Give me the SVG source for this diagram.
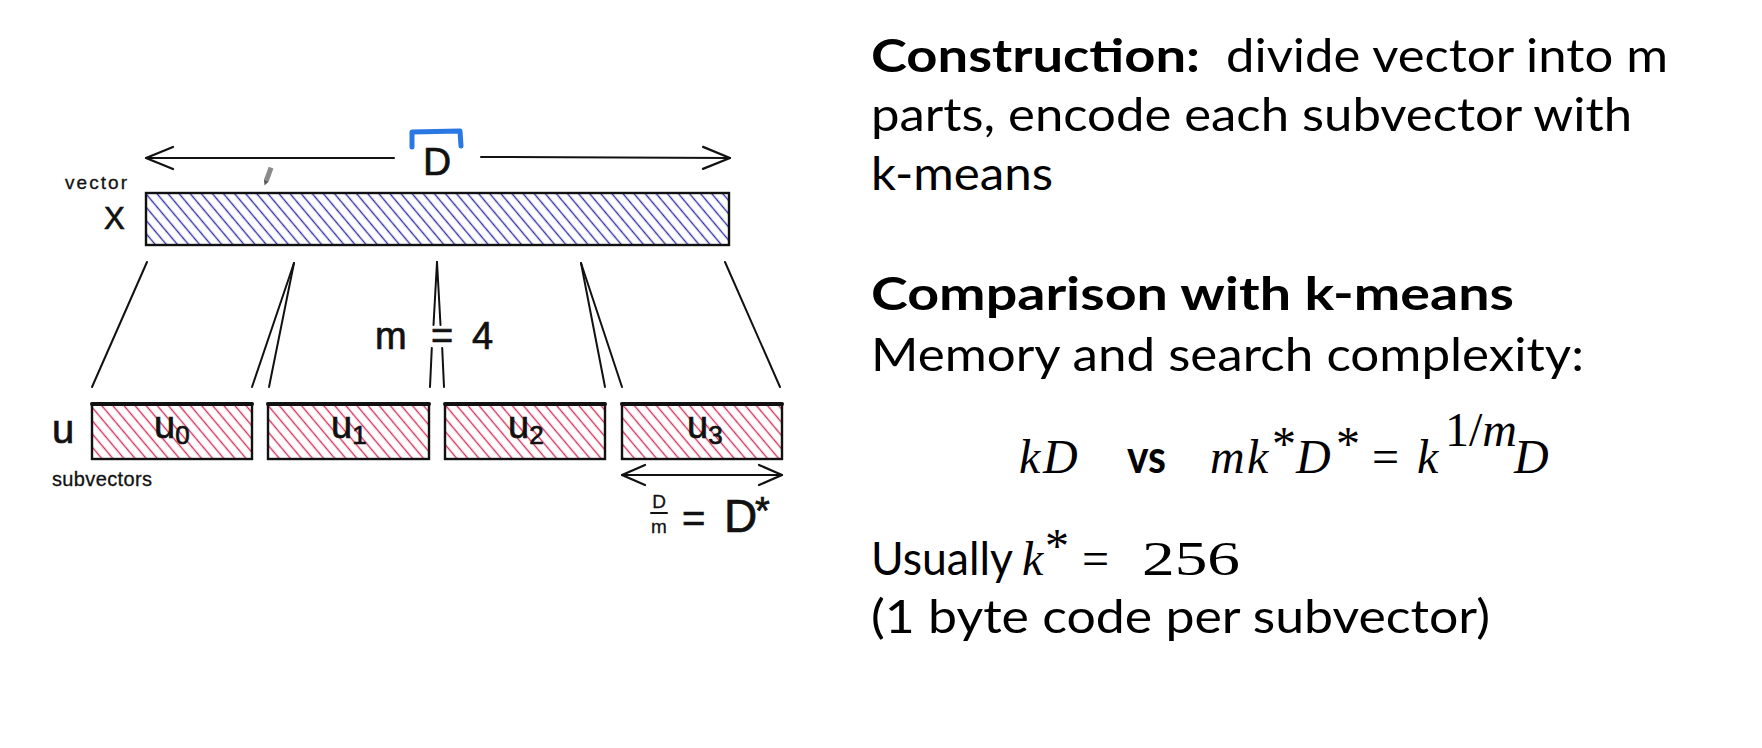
<svg xmlns="http://www.w3.org/2000/svg" width="1762" height="748" viewBox="0 0 1762 748">
  <defs>
    <!-- diagonal hatch fills for the sketched bars -->
    <pattern id="hatch-blue" patternUnits="userSpaceOnUse" width="8.5" height="8.5" patternTransform="rotate(-40)">
      <line x1="4.25" y1="-1" x2="4.25" y2="9.5" stroke="#3431a8" stroke-width="1.4"/>
    </pattern>
    <pattern id="hatch-red" patternUnits="userSpaceOnUse" width="8.5" height="8.5" patternTransform="rotate(-40)">
      <line x1="4.25" y1="-1" x2="4.25" y2="9.5" stroke="#d3325f" stroke-width="1.4"/>
    </pattern>
    <!-- open chevron arrowheads -->
    <marker id="chev-big" viewBox="-30 -14 32 28" refX="0" refY="0" markerWidth="32" markerHeight="28" markerUnits="userSpaceOnUse" orient="auto-start-reverse">
      <path d="M-27,-11 L0,0 L-27,11" fill="none" stroke="#111" stroke-width="2.2" stroke-linecap="round" stroke-linejoin="round"/>
    </marker>
    <marker id="chev-small" viewBox="-26 -12 28 24" refX="0" refY="0" markerWidth="28" markerHeight="24" markerUnits="userSpaceOnUse" orient="auto-start-reverse">
      <path d="M-23,-10 L0,0 L-23,10" fill="none" stroke="#111" stroke-width="2.2" stroke-linecap="round" stroke-linejoin="round"/>
    </marker>
  </defs>
  <style>
    .ink{fill:none;stroke:#111;stroke-width:2;stroke-linecap:round}
    .box{stroke:#111;stroke-width:2.4}
    .topedge{stroke:#111;stroke-width:4;stroke-linecap:round}
    .hand{font-family:"Liberation Sans","DejaVu Sans",sans-serif;fill:#111;stroke:#111;stroke-width:0.7}
    .note{stroke-width:0.3}
    .body{font-family:Lato,"Liberation Sans",sans-serif;font-size:46px;fill:#000}
    .bold{font-weight:bold}
    .math{font-family:"Liberation Serif","DejaVu Serif",serif;font-style:italic;font-size:48px;fill:#000}
    .up{font-style:normal}
  </style>

  <rect width="1762" height="748" fill="#ffffff"/>

  <!-- dimension arrow for D across the full vector -->
  <g id="dim-D">
    <line class="ink" x1="146" y1="158" x2="394" y2="158" marker-start="url(#chev-big)"/>
    <line class="ink" x1="481" y1="157" x2="730" y2="158" marker-end="url(#chev-big)"/>
    <path d="M412,147 L412,132 L460,131 L461,146" fill="none" stroke="#2a78e4" stroke-width="5" stroke-linecap="round" stroke-linejoin="round"/>
    <text class="hand" x="423" y="175" font-size="39">D</text>
  </g>

  <!-- full vector x -->
  <g id="vector-x">
    <text class="hand note" x="65" y="189" font-size="19" textLength="62">vector</text>
    <text class="hand" x="104" y="229" font-size="31">X</text>
    <rect class="box" x="146" y="193" width="583" height="52" fill="url(#hatch-blue)"/>
    <!-- small pencil cursor -->
    <g transform="translate(268,176) rotate(20)">
      <rect x="-2.5" y="-9" width="5" height="14" fill="#8a8a8a"/>
      <path d="M-2.5,5 L0,10 L2.5,5 Z" fill="#555"/>
    </g>
  </g>

  <!-- split lines from the vector down to the subvectors -->
  <g id="connectors" class="ink">
    <line x1="147" y1="262" x2="92" y2="387"/>
    <line x1="294" y1="263" x2="252" y2="387"/>
    <line x1="294" y1="263" x2="269" y2="387"/>
    <line x1="437" y1="262" x2="433.5" y2="325"/>
    <line x1="437" y1="262" x2="440.5" y2="325"/>
    <line x1="431.8" y1="348" x2="430" y2="387"/>
    <line x1="442.2" y1="348" x2="444" y2="387"/>
    <line x1="581" y1="263" x2="605" y2="387"/>
    <line x1="581" y1="263" x2="622" y2="387"/>
    <line x1="725" y1="262" x2="780" y2="387"/>
  </g>

  <g id="label-m">
    <text class="hand" y="349" font-size="38"><tspan x="375">m</tspan><tspan x="431">=</tspan><tspan x="472">4</tspan></text>
  </g>

  <!-- subvector labels -->
  <g id="label-u">
    <text class="hand" x="52" y="443" font-size="40">u</text>
    <text class="hand note" x="52" y="486" font-size="20" textLength="100">subvectors</text>
  </g>

  <g id="sub-u0">
    <rect class="box" x="92" y="404" width="160" height="55" fill="url(#hatch-red)"/>
    <line class="topedge" x1="92" y1="404" x2="252" y2="404"/>
    <text class="hand" x="154" y="438" font-size="38">u<tspan font-size="26" dy="6">0</tspan></text>
  </g>
  <g id="sub-u1">
    <rect class="box" x="268" y="404" width="161" height="55" fill="url(#hatch-red)"/>
    <line class="topedge" x1="268" y1="404" x2="429" y2="404"/>
    <text class="hand" x="331" y="438" font-size="38">u<tspan font-size="26" dy="6">1</tspan></text>
  </g>
  <g id="sub-u2">
    <rect class="box" x="445" y="404" width="160" height="55" fill="url(#hatch-red)"/>
    <line class="topedge" x1="445" y1="404" x2="605" y2="404"/>
    <text class="hand" x="508" y="438" font-size="38">u<tspan font-size="26" dy="6">2</tspan></text>
  </g>
  <g id="sub-u3">
    <rect class="box" x="622" y="404" width="160" height="55" fill="url(#hatch-red)"/>
    <line class="topedge" x1="622" y1="404" x2="782" y2="404"/>
    <text class="hand" x="687" y="438" font-size="38">u<tspan font-size="26" dy="6">3</tspan></text>
  </g>

  <!-- subvector width D* = D/m -->
  <g id="dim-Dstar">
    <line class="ink" x1="622" y1="475" x2="782" y2="475" marker-start="url(#chev-small)" marker-end="url(#chev-small)"/>
    <text class="hand note" x="659" y="508" font-size="19" text-anchor="middle">D</text>
    <line class="ink" x1="651" y1="513" x2="667" y2="513" stroke-width="1.8"/>
    <text class="hand note" x="659" y="533" font-size="19" text-anchor="middle">m</text>
    <text class="hand" x="682" y="532" font-size="40">=</text>
    <text class="hand" x="724" y="532" font-size="46">D</text>
    <text class="hand" x="755" y="524" font-size="38">*</text>
  </g>

  <!-- explanatory text -->
  <g id="notes">
    <text class="body bold" x="871" y="72" textLength="329" lengthAdjust="spacingAndGlyphs">Construction:</text>
    <text class="body" x="1226" y="72" textLength="442" lengthAdjust="spacingAndGlyphs">divide vector into m</text>
    <text class="body" x="871" y="131" textLength="761" lengthAdjust="spacingAndGlyphs">parts, encode each subvector with</text>
    <text class="body" x="871" y="190" textLength="182" lengthAdjust="spacingAndGlyphs">k-means</text>

    <text class="body bold" x="871" y="310" textLength="643" lengthAdjust="spacingAndGlyphs">Comparison with k-means</text>
    <text class="body" x="871" y="371" textLength="713" lengthAdjust="spacingAndGlyphs">Memory and search complexity:</text>

    <g id="formula">
      <text class="math" x="1019" y="473">k</text>
      <text class="math" x="1043" y="473">D</text>
      <text class="body bold" x="1127" y="473" textLength="39" lengthAdjust="spacingAndGlyphs">vs</text>
      <text class="math" x="1210" y="473">m</text>
      <text class="math" x="1247" y="473">k</text>
      <text class="math up" x="1272" y="460" font-size="32">*</text>
      <text class="math" x="1296" y="473">D</text>
      <text class="math up" x="1336" y="460" font-size="32">*</text>
      <text class="math up" x="1372" y="473" font-size="54">=</text>
      <text class="math" x="1417" y="473">k</text>
      <text class="math" x="1445" y="446" font-size="30"><tspan class="up">1/</tspan>m</text>
      <text class="math" x="1514" y="473">D</text>
    </g>

    <text class="body" x="871" y="575" textLength="142" lengthAdjust="spacingAndGlyphs">Usually</text>
    <text class="math" x="1022" y="575">k</text>
    <text class="math up" x="1045" y="562" font-size="32">*</text>
    <text class="math up" x="1082" y="575" font-size="54">=</text>
    <text class="math up" x="1142" y="575" font-size="50" textLength="98" lengthAdjust="spacingAndGlyphs">256</text>
    <text class="body" x="871" y="633" textLength="619" lengthAdjust="spacingAndGlyphs">(1 byte code per subvector)</text>
  </g>
</svg>
